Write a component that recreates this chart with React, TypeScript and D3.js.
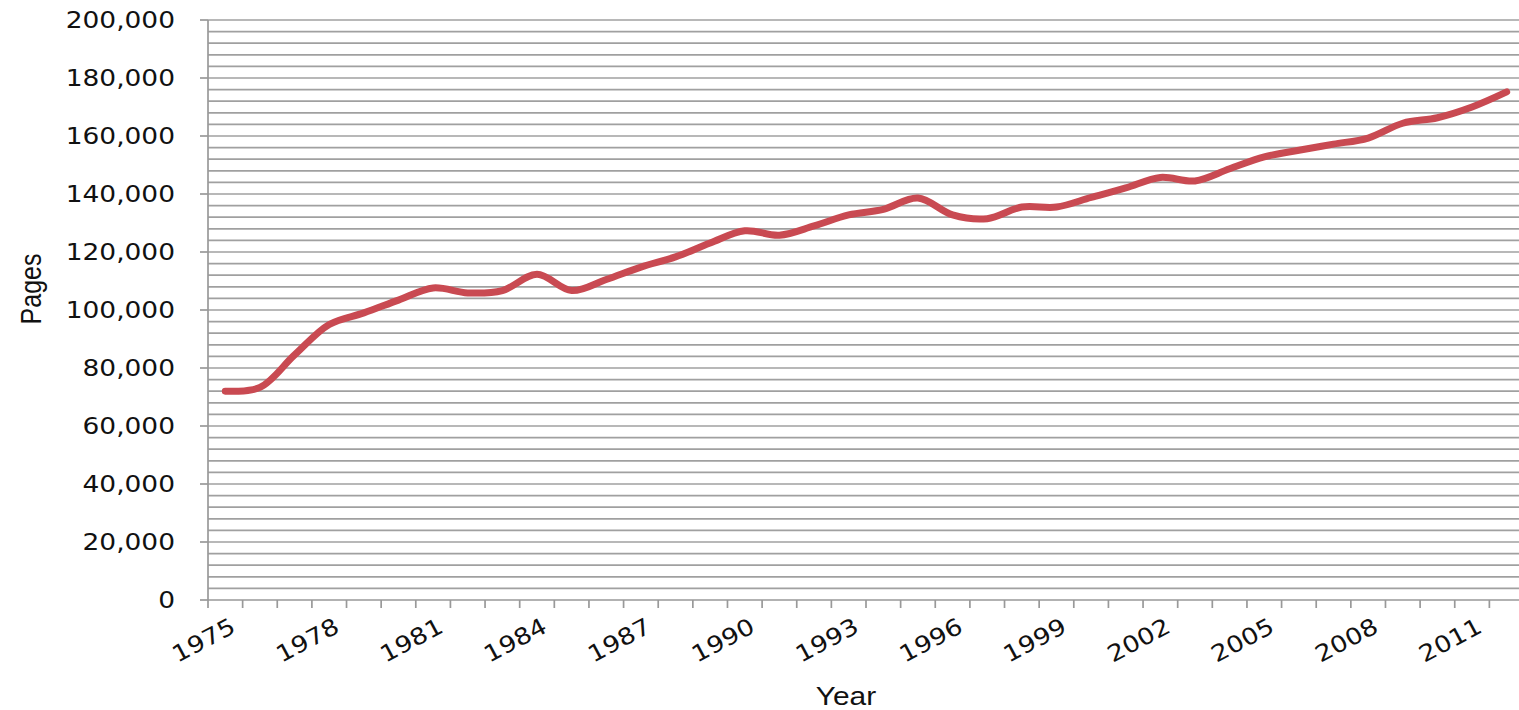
import * as d3 from "d3";
import { useEffect, useRef } from "react";

const years = d3.range(1975, 2013).map(String);
const pages = [
  72000, 73300, 84500, 95000, 99000, 103400, 107600, 105900, 106700, 112300,
  106700, 110500, 114800, 118300, 123100, 127300, 125800, 129000, 132800, 134700,
  138600, 132800, 131500, 135500, 135500, 138800, 142100, 145700, 144500, 148700,
  152800, 155100, 157200, 159300, 164400, 166300, 170000, 175200,
];
const yTicks = d3.range(0, 200001, 20000);
const yLabels = yTicks.map((v) => d3.format(",")(v));
const xLabels = ["1975", "1978", "1981", "1984", "1987", "1990", "1993", "1996", "1999", "2002", "2005", "2008", "2011"];

export default function App() {
  const svgRef = useRef<SVGSVGElement>(null);
  const width = 1519;
  const height = 710;
  const plot = { left: 208, right: 1524, top: 20, bottom: 600 };
  const stretch = 1.15;

  useEffect(() => {
    const svg = d3.select(svgRef.current);
    svg.selectAll("*").remove();

    const x = d3.scaleBand().domain(years).range([plot.left, plot.right]).padding(0);
    const y = d3.scaleLinear().domain([0, 200000]).range([plot.bottom, plot.top]);

    // grid every 4,000
    svg.append("g")
      .selectAll("line")
      .data(d3.range(4000, 200001, 4000))
      .join("line")
      .attr("x1", plot.left)
      .attr("x2", plot.right)
      .attr("y1", (d) => y(d))
      .attr("y2", (d) => y(d))
      .attr("stroke", "#a0a0a0")
      .attr("stroke-width", 1.7);

    // axes lines
    svg.append("line")
      .attr("x1", plot.left).attr("x2", plot.right)
      .attr("y1", plot.bottom).attr("y2", plot.bottom)
      .attr("stroke", "#999").attr("stroke-width", 1.7);
    svg.append("line")
      .attr("x1", plot.left).attr("x2", plot.left)
      .attr("y1", plot.top).attr("y2", plot.bottom)
      .attr("stroke", "#999").attr("stroke-width", 1.7);

    // y ticks + labels
    const gy = svg.append("g");
    gy.selectAll("line")
      .data(yTicks)
      .join("line")
      .attr("x1", plot.left - 8).attr("x2", plot.left)
      .attr("y1", (d) => y(d)).attr("y2", (d) => y(d))
      .attr("stroke", "#999").attr("stroke-width", 1.7);
    gy.selectAll("text")
      .data(yTicks)
      .join("text")
      .attr("transform", (d) => `translate(175,${y(d)}) scale(${stretch},1)`)
      .attr("dy", "0.36em")
      .attr("text-anchor", "end")
      .attr("font-family", "DejaVu Sans, Verdana, sans-serif")
      .attr("font-size", 23)
      .attr("fill", "#111")
      .text((d, i) => yLabels[i]);

    // x ticks between categories
    const gx = svg.append("g");
    gx.selectAll("line")
      .data(d3.range(0, years.length + 1))
      .join("line")
      .attr("x1", (i) => plot.left + i * x.bandwidth())
      .attr("x2", (i) => plot.left + i * x.bandwidth())
      .attr("y1", plot.bottom).attr("y2", plot.bottom + 8)
      .attr("stroke", "#999").attr("stroke-width", 1.7);
    gx.selectAll("text")
      .data(xLabels)
      .join("text")
      .attr("transform", (d) => `translate(${x(d)! + x.bandwidth() / 2 + 4},${plot.bottom + 17}) rotate(-28) scale(${stretch},1)`)
      .attr("dy", "0.71em")
      .attr("text-anchor", "end")
      .attr("font-family", "DejaVu Sans, Verdana, sans-serif")
      .attr("font-size", 23)
      .attr("fill", "#111")
      .text((d) => d);

    // line
    const line = d3.line<number>()
      .x((d, i) => x(years[i])! + x.bandwidth() / 2)
      .y((d) => y(d))
      .curve(d3.curveCatmullRom.alpha(0.5));
    svg.append("path")
      .datum(pages)
      .attr("d", line)
      .attr("fill", "none")
      .attr("stroke", "#c94a52")
      .attr("stroke-width", 7)
      .attr("stroke-linejoin", "round")
      .attr("stroke-linecap", "round");

    // axis titles
    svg.append("text")
      .attr("transform", `translate(846,705) scale(${stretch},1)`)
      .attr("text-anchor", "middle")
      .attr("font-family", "Liberation Sans, Arial, sans-serif")
      .attr("font-size", 26)
      .attr("fill", "#111")
      .text("Year");
    svg.append("text")
      .attr("transform", `translate(41,289) rotate(-90) scale(1,${stretch})`)
      .attr("text-anchor", "middle")
      .attr("font-family", "Liberation Sans, Arial, sans-serif")
      .attr("font-size", 25)
      .attr("fill", "#111")
      .text("Pages");
  }, []);

  return (
    <svg
      ref={svgRef}
      width={width}
      height={height}
      style={{ position: "absolute", left: 0, top: 0, background: "#fff" }}
    />
  );
}
